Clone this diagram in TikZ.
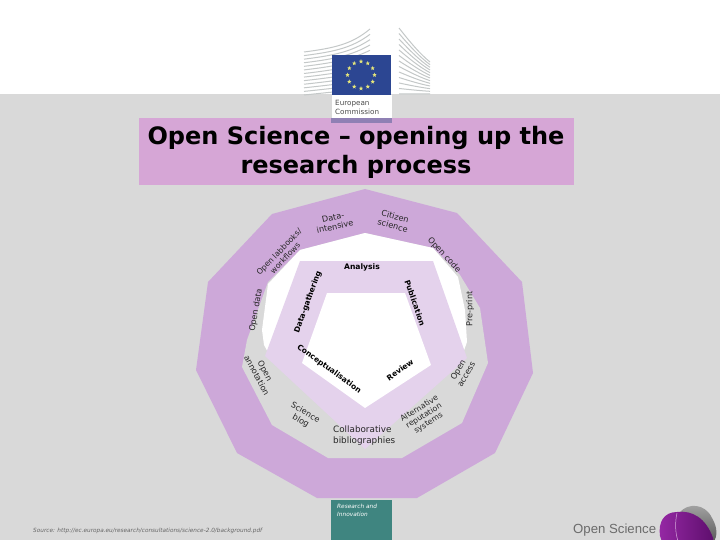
\documentclass[tikz,border=0pt]{standalone}
\usepackage{fontspec}
\setmainfont{DejaVu Sans}
\newfontfamily\libsans{Liberation Sans}
\usetikzlibrary{shapes.geometric}
\definecolor{bggray}{HTML}{D9D9D9}
\definecolor{ringpurple}{HTML}{CDA8D9}
\definecolor{lav}{HTML}{E4D2EC}
\definecolor{titlepink}{HTML}{D6A6D6}
\definecolor{flagblue}{HTML}{2C4692}
\definecolor{flagband}{HTML}{8F80B4}
\definecolor{starcol}{HTML}{E6E67A}
\definecolor{tealbox}{HTML}{3F8580}
\definecolor{bldg}{HTML}{C4C8C8}
\definecolor{blobA}{HTML}{9628A5}
\definecolor{blobB}{HTML}{5F0F6E}
\tikzset{
  lbl/.style={font=\fontsize{8.2}{9.4}\selectfont, align=center, inner sep=0pt, text=black!85},
  blbl/.style={font=\fontsize{7.6}{8.6}\selectfont\bfseries, align=center, inner sep=0pt, text=black},
}
\begin{document}
\begin{tikzpicture}[x=1pt,y=-1pt]
\useasboundingbox (0,0) rectangle (720,540);
\fill[white] (0,0) rectangle (720,94);
\fill[bggray] (0,94) rectangle (720,540);
% building
\foreach \t in {0,0.0833,...,1.01}{
  \draw[bldg,line width=1pt] (304,52+43*\t) .. controls (335,48+44*\t) and (352,44+45*\t) .. (370,29+64*\t);
  \draw[bldg,line width=1pt] (399,28+66*\t) .. controls (410,42+52*\t) and (420,54+40*\t) .. (430,62+32*\t);
}
\fill[white] (332,95) rectangle (392,118);
\fill[flagblue] (332,55) rectangle (391,95);
\foreach \a in {0,30,...,330}{
  \node[star,star points=5,star point ratio=2.4,fill=starcol,inner sep=0pt,minimum size=4.6pt] (star\a) at ({361+13.5*cos(\a)},{75+13.5*sin(\a)}) {};
}
\node[anchor=west,inner sep=0pt,text=black!70,font=\fontsize{7.2}{9}\selectfont,align=left] (ec) at (335,107) {European\\Commission};
% title
\fill[titlepink] (139,118) rectangle (574,185);
\fill[flagband] (331,118) rectangle (392,123);
\node[font=\fontsize{24}{29}\selectfont\bfseries,align=center,inner sep=0pt,text=black] (title) at (356,152) {Open Science – opening up the\\research process};
% rings
\fill[ringpurple] (365,189)--(457,213)--(522,282)--(533,373)--(495,453)--(417,498)--(317,498)--(237,453)--(196,370)--(208,282)--(272,214)--cycle;
\fill[bggray] (365,233)--(433,248)--(460,275)--(480,308)--(488,363)--(462,423)--(402,458)--(328,458)--(272,425)--(242,367)--(247,340)--(268,282)--(300,250)--cycle;
\fill[white] (365,233)--(433,248)--(458,277)--(465,310)--(467,342)--(462,356)--(270,356)--(264,345)--(262,330)--(268,284)--(300,250)--cycle;
\fill[lav] (300,261)--(433,261)--(467,358)--(365,449)--(265,356)--cycle;
\fill[white] (327,293)--(405,293)--(431,365)--(365,408)--(302,363)--cycle;
% outer labels
\node[lbl,rotate=12] (dataint) at (334,222) {Data-\\intensive};
\node[lbl,rotate=-15] (citizen) at (394,221) {Citizen\\science};
\node[lbl,rotate=-47] (opencode) at (444,255) {Open code};
\node[lbl,rotate=90] (preprint) at (470,309) {Pre-print};
\node[lbl,rotate=46,font=\fontsize{7.8}{8.8}\selectfont] (labbook) at (282,255) {Open labbooks/\\workflows};
\node[lbl,rotate=80] (opendata) at (256,310) {Open data};
\node[lbl,rotate=-62] (annot) at (261,373) {Open\\annotation};
\node[lbl,rotate=-30] (blog) at (303,417) {Science\\blog};
\node[lbl,align=left,anchor=west,font=\fontsize{8.8}{11}\selectfont] (collab) at (333,436) {Collaborative\\bibliographies};
\node[lbl,rotate=32,font=\fontsize{7.8}{8.6}\selectfont] (altrep) at (424,416) {Alternative\\reputation\\systems};
\node[lbl,rotate=60] (access) at (462,372) {Open\\access};
% inner labels
\node[blbl] (analysis) at (362,267) {Analysis};
\node[blbl,rotate=70] (gather) at (308,302) {Data-gathering};
\node[blbl,rotate=-71] (pub) at (415,303) {Publication};
\node[blbl,rotate=35] (review) at (400,370) {Review};
\node[blbl,rotate=-36] (concept) at (329,369) {Conceptualisation};
% footer
\fill[tealbox] (331,500) rectangle (392,540);
\node[anchor=west,inner sep=0pt,text=white,align=left,font=\fontsize{5.8}{8}\selectfont\itshape] (ri) at (337,510) {Research and\\Innovation};
\node[anchor=west,inner sep=0pt,text=black!60,font=\fontsize{5.75}{7}\selectfont\itshape] (src) at (33,531) {Source: http://ec.europa.eu/research/consultations/science-2.0/background.pdf};
\node[anchor=west,inner sep=0pt,text=black!58,font=\fontsize{13.2}{15}\selectfont\libsans] (os) at (573,530) {Open Science};
% blob
\begin{scope}
\clip (0,0) rectangle (720,540);
\shade[top color=black!35,bottom color=black!65] (680,512) .. controls (688,503) and (705,503) .. (712,518) .. controls (718,528) and (717,536) .. (714,542) -- (690,542) -- cycle;
\shade[left color=blobA,right color=blobB] (660,536) .. controls (658,522) and (664,512) .. (677,512) .. controls (692,510) and (706,518) .. (713,538) -- (713,542) -- (662,542) -- cycle;
\draw[blobA!40!white,line width=0.5pt] (677,513) .. controls (675,522) and (675,532) .. (678,541);
\end{scope}
\end{tikzpicture}
\end{document}
